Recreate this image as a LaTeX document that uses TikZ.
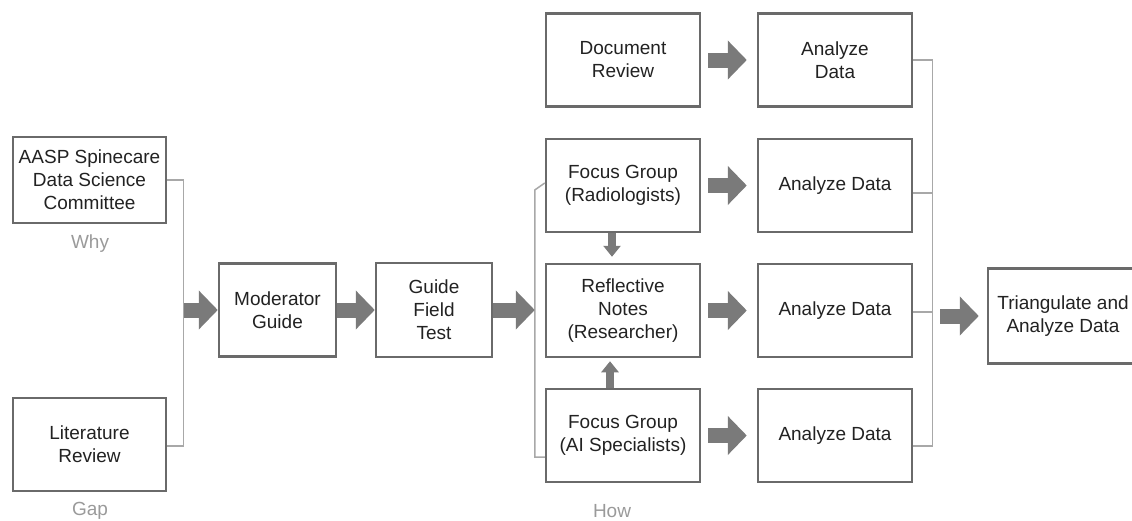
\documentclass[tikz,border=0pt]{standalone}
\usepackage{fontspec}
\setmainfont{Liberation Sans}
\usetikzlibrary{arrows.meta,calc}
\definecolor{boxgray}{HTML}{6A6A6A}
\definecolor{arrowgray}{HTML}{7A7A7A}
\definecolor{linkgray}{HTML}{A8A8A8}
\definecolor{notegray}{HTML}{9A9A9A}
\definecolor{textdark}{HTML}{222222}
\tikzset{
    box/.style={draw=boxgray,line width=2.5pt,fill=white,align=center,inner sep=0pt,
        minimum width=154pt,minimum height=93pt,text=textdark,font=\fontsize{19}{23}\selectfont},
    smallbox/.style={box,minimum width=117pt},
    note/.style={text=notegray,font=\fontsize{19}{23}\selectfont},
    bracket/.style={draw=linkgray,line width=1.5pt},
    flow/.style={draw=arrowgray,line width=15pt,-{Triangle[length=19pt,width=38pt]}},
    smallflow/.style={draw=arrowgray,line width=8pt,-{Triangle[length=11pt,width=17pt]}}
}
\begin{document}
\begin{tikzpicture}[x=1pt,y=-1pt]
\useasboundingbox(0,0)rectangle(1132,520);
\node[box,minimum width=153pt,minimum height=86pt](aasp) at(89.5,180){AASP Spinecare\\Data Science\\Committee};
\node[box,minimum width=153pt](lit) at(89.5,444.5){Literature\\Review};
\node[note] at(90,244){Why};
\node[note] at(90,511){Gap};

\node[smallbox](mod) at(277.5,310){Moderator\\Guide};
\node[smallbox,minimum width=116pt,minimum height=94pt](guide) at(434,310){Guide\\Field\\Test};

\node[box](doc) at(623,60){Document\\Review};
\node[box](rad) at(623,185.5){Focus Group\\(Radiologists)};
\node[box](refl) at(623,310.5){Reflective\\Notes\\(Researcher)};
\node[box](ai) at(623,435.5){Focus Group\\(AI Specialists)};
\node[note] at(612,511){How};

\node[box](ad1) at(835,60){Analyze\\Data};
\foreach \i/\y in {2/185.5,3/310.5,4/435.5}
    \node[box](ad\i) at(835,\y){Analyze Data};
\node[box,minimum width=150pt,minimum height=95pt](tri) at(1063,316){Triangulate and\\Analyze Data};

\coordinate(litin) at([yshift=-1.5pt]lit.east);
\draw[bracket](aasp.east)--++(16,0)coordinate(lj)|-(litin);
\coordinate(lin) at(lj |- mod.west);
\draw[flow,shorten <=1pt](lin)--(mod.west);
\draw[flow](mod.east)--(guide.west);

\coordinate(radin) at([yshift=2.5pt]rad.west);
\coordinate(aiin) at([yshift=-21.5pt]ai.west);
\draw[bracket](radin)--++(-10,7)coordinate(mj)--(mj |- aiin)--(aiin);
\draw[flow](guide.east)--(mj |- guide.east);

\coordinate(radout) at([xshift=-11pt]rad.south);
\coordinate(aiout) at([xshift=-13pt]ai.north);
\draw[smallflow,shorten >=6pt](radout)--(radout |- refl.north);
\draw[smallflow,shorten >=3pt](aiout)--(aiout |- refl.south);

\foreach \a/\b in {doc/ad1,rad/ad2,refl/ad3,ai/ad4}
    \draw[flow,shorten <=7pt,shorten >=10pt](\a.east)--(\b.west);

\coordinate(out2) at([yshift=-7.5pt]ad2.east);
\coordinate(out3) at([yshift=-1.5pt]ad3.east);
\coordinate(out4) at([yshift=-10.5pt]ad4.east);
\draw[bracket](ad1.east)--++(19,0)coordinate(rj)--(rj |- out4)--(out4);
\draw[bracket](out2)--(rj |- out2);
\draw[bracket](out3)--(rj |- out3);
\draw[flow,shorten <=8pt,shorten >=8pt](rj |- tri.west)--(tri.west);
\end{tikzpicture}
\end{document}
